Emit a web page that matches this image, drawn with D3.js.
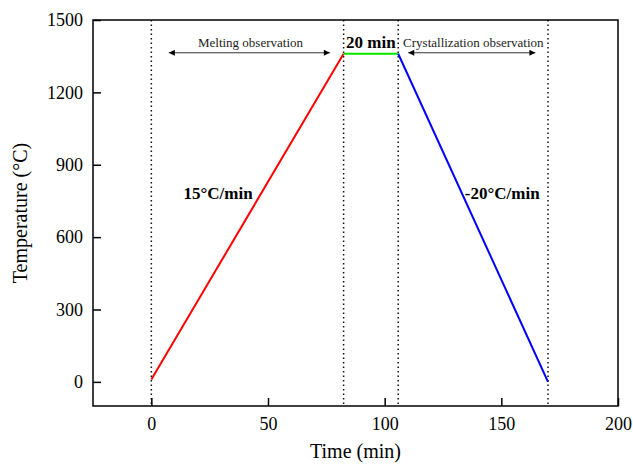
<!DOCTYPE html>
<html>
<head>
<meta charset="utf-8">
<script src="https://cdn.jsdelivr.net/npm/d3@7"></script>
<style>
  html, body { margin: 0; padding: 0; background: #fff; }
  svg { display: block; font-family: "Liberation Serif", "Times New Roman", serif; }
</style>
</head>
<body>
<svg id="chart" width="633" height="464"></svg>
<script>
// Thermal program: heating, isothermal hold, cooling
const stageNames = ["Heating", "Holding", "Cooling"];
const stageStart = [0, 82.4, 105.8];      // min
const stageEnd = [82.4, 105.8, 170];      // min
const tempStart = [10, 1360, 1360];       // °C
const tempEnd = [1360, 1360, 0];          // °C
const stageColors = ["#ff0000", "#00e600", "#0000ff"];

// Vertical guide lines (min)
const guideTimes = [0, 82.4, 105.8, 170];

// Axis ticks
const xTicks = [0, 50, 100, 150, 200];
const yTicks = [0, 300, 600, 900, 1200, 1500];

// Observation windows drawn as double arrows
const windowLabels = ["Melting observation", "Crystallization observation"];
const windowFrom = [7.5, 110.1];
const windowTo = [76.5, 164.6];
const windowTextX = [42.5, 138];

const rateLabels = ["15°C/min", "-20°C/min"];
const rateLabelX = [28.6, 150.4];
const rateLabelY = [760, 760];
const holdLabel = "20 min";

const svg = d3.select("#chart");
const margin = { left: 93, right: 15, top: 20, bottom: 58 };
const W = 633, H = 464;
const serif = "'Liberation Serif', 'Times New Roman', serif";

const x = d3.scaleLinear().domain([-25, 200]).range([margin.left, W - margin.right]);
const y = d3.scaleLinear().domain([-100, 1500]).range([H - margin.bottom, margin.top]);

// defs: arrowheads
const defs = svg.append("defs");
defs.append("marker")
  .attr("id", "arrowHead")
  .attr("viewBox", "0 0 10 10")
  .attr("refX", 10).attr("refY", 5)
  .attr("markerWidth", 10).attr("markerHeight", 6)
  .attr("markerUnits", "userSpaceOnUse")
  .attr("orient", "auto-start-reverse")
  .append("path").attr("d", "M0,0 L10,5 L0,10 Z").attr("fill", "#000");

// Dotted guides
svg.append("g").selectAll("line").data(guideTimes).join("line")
  .attr("x1", d => x(d)).attr("x2", d => x(d))
  .attr("y1", y(1500)).attr("y2", y(-100))
  .attr("stroke", "#111").attr("stroke-width", 1.5)
  .attr("stroke-dasharray", "1.5,3");

// Temperature profile segments
svg.append("g").selectAll("line").data(stageNames).join("line")
  .attr("x1", (d, i) => x(stageStart[i])).attr("y1", (d, i) => y(tempStart[i]))
  .attr("x2", (d, i) => x(stageEnd[i])).attr("y2", (d, i) => y(tempEnd[i]))
  .attr("stroke", (d, i) => stageColors[i])
  .attr("stroke-width", 2);

// Axes (ticks pointing inward)
const xAxis = d3.axisBottom(x).tickValues(xTicks).tickFormat(d3.format("d"))
  .tickSizeInner(-8).tickSizeOuter(0).tickPadding(11);
const yAxis = d3.axisLeft(y).tickValues(yTicks).tickFormat(d3.format("d"))
  .tickSizeInner(-8).tickSizeOuter(0).tickPadding(10);

const gx = svg.append("g").attr("transform", `translate(0,${y(-100)})`).call(xAxis);
const gy = svg.append("g").attr("transform", `translate(${x(-25)},0)`).call(yAxis);
[gx, gy].forEach(g => {
  g.select(".domain").remove();
  g.selectAll(".tick line").attr("stroke", "#000").attr("stroke-width", 1.5);
  g.selectAll(".tick text").attr("fill", "#000")
    .style("font-family", serif)
    .style("font-size", "18px");
});

// Frame
svg.append("rect")
  .attr("x", x(-25)).attr("y", y(1500))
  .attr("width", x(200) - x(-25)).attr("height", y(-100) - y(1500))
  .attr("fill", "none").attr("stroke", "#000").attr("stroke-width", 1.5);

// Axis titles
svg.append("text")
  .attr("x", (x(-25) + x(200)) / 2).attr("y", 458)
  .attr("text-anchor", "middle")
  .style("font-size", "20px").text("Time (min)");
svg.append("text")
  .attr("transform", `translate(27,${(y(-100) + y(1500)) / 2}) rotate(-90)`)
  .attr("text-anchor", "middle")
  .style("font-size", "20px").text("Temperature (°C)");

// Observation windows
const win = svg.append("g");
win.selectAll("line").data(windowLabels).join("line")
  .attr("x1", (d, i) => x(windowFrom[i])).attr("x2", (d, i) => x(windowTo[i]))
  .attr("y1", y(1360) - 1).attr("y2", y(1360) - 1)
  .attr("stroke", "#333").attr("stroke-width", 1)
  .attr("marker-start", "url(#arrowHead)")
  .attr("marker-end", "url(#arrowHead)");
win.selectAll("text").data(windowLabels).join("text")
  .attr("x", (d, i) => x(windowTextX[i])).attr("y", 46.5)
  .attr("text-anchor", "middle")
  .attr("fill", "#222")
  .style("font-size", "13px")
  .text(d => d);

// Hold duration label
svg.append("text")
  .attr("x", (x(stageStart[1]) + x(stageEnd[1])) / 2).attr("y", 48)
  .attr("text-anchor", "middle")
  .style("font-size", "17px").style("font-weight", "bold")
  .text(holdLabel);

// Rate labels
svg.append("g").selectAll("text").data(rateLabels).join("text")
  .attr("x", (d, i) => x(rateLabelX[i])).attr("y", (d, i) => y(rateLabelY[i]))
  .attr("text-anchor", "middle")
  .style("font-size", "17px").style("font-weight", "bold")
  .text(d => d);
</script>
</body>
</html>
